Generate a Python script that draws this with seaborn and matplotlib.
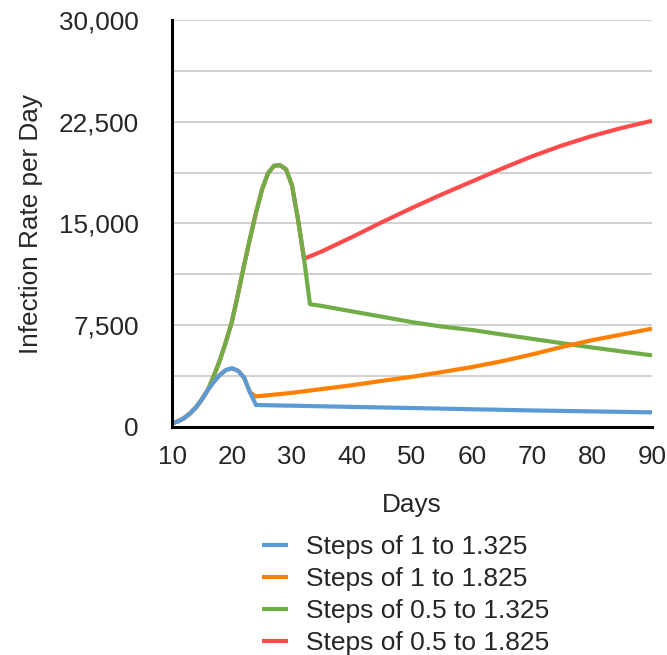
import pandas as pd
import matplotlib.pyplot as plt
import matplotlib.ticker as mticker
import seaborn as sns

# -----------------------------
# Data
# -----------------------------

labels = [
    "Steps of 1 to 1.325",
    "Steps of 1 to 1.825",
    "Steps of 0.5 to 1.325",
    "Steps of 0.5 to 1.825",
]
colors = ["#5B9BD5", "#FF8000", "#70AD47", "#FF4B4B"]

# Steps of 1 to 1.325
blue_days = [10, 11, 12, 13, 14, 15, 16, 17, 18, 19, 20, 21, 22, 23, 24,
             30, 40, 50, 60, 70, 80, 90]
blue_vals = [270, 420, 650, 1000, 1450, 2050, 2750, 3350, 3850, 4200, 4330,
             4150, 3650, 2550, 1620,
             1570, 1480, 1400, 1310, 1220, 1150, 1080]

# Steps of 1 to 1.825
orange_days = [10, 11, 12, 13, 14, 15, 16, 17, 18, 19, 20, 21, 22, 23, 24,
               30, 35, 40, 45, 50, 55, 60, 65, 70, 75, 80, 85, 90]
orange_vals = [270, 420, 650, 1000, 1450, 2050, 2750, 3350, 3850, 4200, 4330,
               4150, 3650, 2550, 2250,
               2520, 2800, 3080, 3400, 3700, 4050, 4420, 4850, 5350, 5900,
               6400, 6820, 7250]

# Steps of 0.5 to 1.325
green_days = [10, 11, 12, 13, 14, 15, 16, 17, 18, 19, 20, 21, 22, 23, 24,
              25, 26, 27, 28, 29, 30, 31, 32, 33,
              35, 40, 45, 50, 55, 60, 65, 70, 75, 80, 85, 90]
green_vals = [270, 420, 650, 1000, 1450, 2050, 2750, 3800, 4950, 6300, 7800,
              9800, 11900, 13900, 15800, 17500, 18700, 19250, 19300, 19000,
              17800, 15300, 12400, 9050,
              8920, 8520, 8130, 7730, 7400, 7150, 6820, 6500, 6180, 5860,
              5570, 5280]

# Steps of 0.5 to 1.825
red_days = [10, 11, 12, 13, 14, 15, 16, 17, 18, 19, 20, 21, 22, 23, 24,
            25, 26, 27, 28, 29, 30, 31, 32,
            35, 40, 45, 50, 55, 60, 65, 70, 75, 80, 85, 90]
red_vals = [270, 420, 650, 1000, 1450, 2050, 2750, 3800, 4950, 6300, 7800,
            9800, 11900, 13900, 15800, 17500, 18700, 19250, 19300, 19000,
            17800, 15300, 12400,
            12950, 14000, 15100, 16150, 17150, 18100, 19050, 19950, 20750,
            21450, 22050, 22570]

y_ticks = [0, 7500, 15000, 22500, 30000]
x_ticks = [10, 20, 30, 40, 50, 60, 70, 80, 90]

series = [
    (blue_days, blue_vals),
    (orange_days, orange_vals),
    (green_days, green_vals),
    (red_days, red_vals),
]

frames = []
for name, (d, v) in zip(labels, series):
    frames.append(pd.DataFrame({"Days": d, "Rate": v, "Series": name}))
df = pd.concat(frames, ignore_index=True)

# -----------------------------
# Plot
# -----------------------------

sns.set_theme(style="white")
plt.rcParams["font.family"] = ["Liberation Sans", "DejaVu Sans"]

fig = plt.figure(figsize=(6.67, 6.55), dpi=100)
ax = fig.add_axes([172 / 667, 1 - 427 / 655, 480 / 667, 407 / 655])

# draw last series first so the first one sits on top
handles = {}
for name, col in reversed(list(zip(labels, colors))):
    sub = df[df["Series"] == name]
    sns.lineplot(
        data=sub, x="Days", y="Rate", color=col, linewidth=3.0,
        estimator=None, sort=True, ax=ax, label=name,
    )
    line = ax.lines[-1]
    line.set_solid_joinstyle("round")
    line.set_solid_capstyle("butt")
    line.set_clip_on(False)
    handles[name] = line

ax.set_xlim(10, 90)
ax.set_ylim(0, 30000)
ax.set_xticks(x_ticks)
ax.set_yticks(y_ticks)
ax.yaxis.set_minor_locator(mticker.MultipleLocator(3750))
ax.yaxis.set_major_formatter(mticker.StrMethodFormatter("{x:,.0f}"))

ax.grid(axis="y", which="both", color="#c8c8c8", linewidth=1.2)
ax.grid(axis="x", visible=False)
ax.set_axisbelow(True)

for side in ["top", "right"]:
    ax.spines[side].set_visible(False)
for side in ["left", "bottom"]:
    ax.spines[side].set_color("black")
    ax.spines[side].set_linewidth(2.2)

ax.tick_params(axis="y", which="both", length=0, pad=24, labelsize=18.8)
ax.tick_params(axis="x", which="both", length=0, pad=13, labelsize=18.8)

ax.set_xlabel("Days", fontsize=18.8, labelpad=17)
ax.set_ylabel("Infection Rate per Day", fontsize=18.8, labelpad=11)

ax.legend(
    [handles[n] for n in labels], labels,
    loc="upper left", bbox_to_anchor=(262 / 667, 1 - 535 / 655),
    bbox_transform=fig.transFigure, frameon=False, fontsize=19,
    handlelength=1.0, handletextpad=0.65, labelspacing=0.3,
    borderpad=0, borderaxespad=0,
)

plt.savefig("out.png", dpi=100)
plt.close()
